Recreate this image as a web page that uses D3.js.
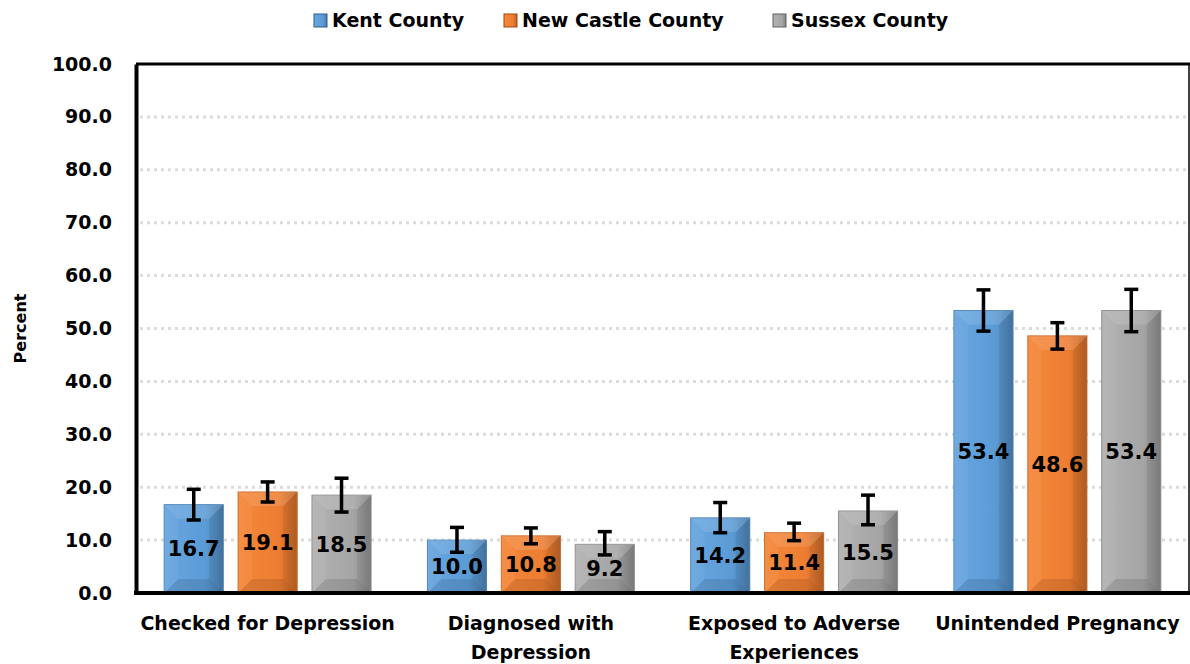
<!DOCTYPE html>
<html>
<head>
<meta charset="utf-8">
<script src="https://cdn.jsdelivr.net/npm/d3@7"></script>
<style>
  body { margin: 0; background: #fff; }
  text { font-family: "DejaVu Sans", sans-serif; font-weight: bold; fill: #000; }
</style>
</head>
<body>
<div id="container"></div>
<script>
let w = 1190;
let h = 664;

// data
let categories = ["Checked for Depression", "Diagnosed with Depression", "Exposed to Adverse Experiences", "Unintended Pregnancy"];
let categoryLines = [["Checked for Depression"], ["Diagnosed with", "Depression"], ["Exposed to Adverse", "Experiences"], ["Unintended Pregnancy"]];
let series = ["Kent County", "New Castle County", "Sussex County"];
let kent = [16.7, 10.0, 14.2, 53.4];
let newCastle = [19.1, 10.8, 11.4, 48.6];
let sussex = [18.5, 9.2, 15.5, 53.4];
let kentLow = [13.8, 7.7, 11.4, 49.5];
let kentHigh = [19.6, 12.4, 17.1, 57.3];
let newCastleLow = [17.2, 9.3, 9.9, 46.1];
let newCastleHigh = [21.0, 12.3, 13.2, 51.1];
let sussexLow = [15.3, 7.2, 12.9, 49.4];
let sussexHigh = [21.7, 11.6, 18.5, 57.4];
let yTicks = [0, 10, 20, 30, 40, 50, 60, 70, 80, 90, 100];

let colors = {"Kent County": "#5b9bd5", "New Castle County": "#ed7d31", "Sussex County": "#a5a5a5"};
let darkColors = {"Kent County": "#2e5f8c", "New Castle County": "#9c4a12", "Sussex County": "#606060"};
let lightColors = {"Kent County": "#68a6e0", "New Castle County": "#f5883a", "Sussex County": "#b2b2b2"};

let values = [kent, newCastle, sussex];
let lows = [kentLow, newCastleLow, sussexLow];
let highs = [kentHigh, newCastleHigh, sussexHigh];

let rows = [];
categories.forEach(function(c, i){
  series.forEach(function(s, j){
    rows.push({cat: c, series: s, value: values[j][i], low: lows[j][i], high: highs[j][i]});
  });
});

let margin = {left: 136, right: 1, top: 64, bottom: 71};

let viz = d3.select("#container")
  .append("svg")
    .attr("width", w)
    .attr("height", h);

let defs = viz.append("defs");
series.forEach(function(s, j){
  let g = defs.append("linearGradient").attr("id", "grad" + j).attr("x1", "0").attr("x2", "1").attr("y1", "0").attr("y2", "0");
  g.append("stop").attr("offset", "0%").attr("stop-color", lightColors[s]);
  g.append("stop").attr("offset", "70%").attr("stop-color", colors[s]);
  g.append("stop").attr("offset", "100%").attr("stop-color", d3.color(colors[s]).darker(0.7));
});

let y = d3.scaleLinear().domain([0, 100]).range([h - margin.bottom, margin.top]);
let x0 = d3.scaleBand().domain(categories).range([margin.left, w - margin.right]).paddingInner(0.214).paddingOuter(0.107);
let x1 = d3.scaleBand().domain(series).range([0, x0.bandwidth()]).paddingInner(0.2);

// gridlines
viz.append("g").selectAll("line").data(yTicks.filter(function(t){ return t > 0 && t < 100; })).enter()
  .append("line")
    .attr("x1", margin.left + 4)
    .attr("x2", w - margin.right)
    .attr("y1", function(d){ return y(d); })
    .attr("y2", function(d){ return y(d); })
    .attr("stroke", "#dcdcdc")
    .attr("stroke-width", 3)
    .attr("stroke-dasharray", "3,4");

// frame
viz.append("line").attr("x1", margin.left).attr("x2", w).attr("y1", y(100)).attr("y2", y(100)).attr("stroke", "#000").attr("stroke-width", 3);
viz.append("line").attr("x1", w - 1).attr("x2", w - 1).attr("y1", y(100)).attr("y2", y(0)).attr("stroke", "#000").attr("stroke-width", 1.5);

// bars
let bars = viz.append("g").selectAll("g").data(rows).enter()
  .append("g")
    .attr("transform", function(d){ return "translate(" + (x0(d.cat) + x1(d.series)) + ",0)"; });

let bw = x1.bandwidth();
bars.append("rect")
  .attr("x", 0)
  .attr("y", function(d){ return y(d.value); })
  .attr("width", bw)
  .attr("height", function(d){ return y(0) - y(d.value); })
  .attr("fill", function(d){ return "url(#grad" + series.indexOf(d.series) + ")"; })
  .attr("stroke", function(d){ return d3.color(colors[d.series]).darker(0.4); })
  .attr("stroke-width", 1);

// bevel facets
function facets(d){
  let top = y(d.value), bot = y(0);
  let hgt = bot - top;
  let b = Math.min(bw / 2, hgt / 2, 14);
  return [
    {pts: [[0, top], [bw, top], [bw - b, top + b], [b, top + b]], fill: "#fff", op: 0.12},
    {pts: [[bw, top], [bw, bot], [bw - b, bot - b], [bw - b, top + b]], fill: "#000", op: 0.06},
    {pts: [[0, bot], [bw, bot], [bw - b, bot - b], [b, bot - b]], fill: "#000", op: 0.1},
    {pts: [[0, top], [0, bot], [b, bot - b], [b, top + b]], fill: "#fff", op: 0.05}
  ];
}
bars.selectAll("polygon").data(facets).enter()
  .append("polygon")
    .attr("points", function(f){ return f.pts.map(function(p){ return p.join(","); }).join(" "); })
    .attr("fill", function(f){ return f.fill; })
    .attr("fill-opacity", function(f){ return f.op; });

// value labels
bars.append("text")
  .attr("x", bw / 2)
  .attr("y", function(d){ return (y(d.value) + y(0)) / 2; })
  .attr("dy", "0.36em")
  .attr("text-anchor", "middle")
  .style("font-size", "21px")
  .text(function(d){ return d.value.toFixed(1); });

// error bars
let err = bars.append("g").attr("stroke", "#000").attr("stroke-width", 3.5);
err.append("line").attr("x1", bw / 2).attr("x2", bw / 2)
  .attr("y1", function(d){ return y(d.low); }).attr("y2", function(d){ return y(d.high); });
err.append("line").attr("x1", bw / 2 - 7).attr("x2", bw / 2 + 7)
  .attr("y1", function(d){ return y(d.low); }).attr("y2", function(d){ return y(d.low); });
err.append("line").attr("x1", bw / 2 - 7).attr("x2", bw / 2 + 7)
  .attr("y1", function(d){ return y(d.high); }).attr("y2", function(d){ return y(d.high); });

// y axis
let yAxis = viz.append("g")
  .attr("transform", "translate(" + margin.left + ",0)")
  .call(d3.axisLeft(y).tickValues(yTicks).tickFormat(d3.format(".1f")).tickSize(0).tickPadding(24));
yAxis.select(".domain").attr("stroke", "#000").attr("stroke-width", 4);
yAxis.selectAll("text").style("font-size", "19px").style("font-family", "DejaVu Sans, sans-serif").style("font-weight", "bold");

// x axis line
viz.append("line").attr("x1", margin.left - 2).attr("x2", w).attr("y1", y(0)).attr("y2", y(0)).attr("stroke", "#000").attr("stroke-width", 4);

// category labels
categories.forEach(function(c, i){
  let t = viz.append("text")
    .attr("x", x0(c) + x0.bandwidth() / 2)
    .attr("y", 630)
    .attr("text-anchor", "middle")
    .style("font-size", "19px");
  categoryLines[i].forEach(function(line, k){
    t.append("tspan").attr("x", x0(c) + x0.bandwidth() / 2).attr("dy", k == 0 ? 0 : 29).text(line);
  });
});

// y title
viz.append("text")
  .attr("transform", "translate(26," + y(50) + ") rotate(-90)")
  .attr("text-anchor", "middle")
  .style("font-size", "16px")
  .text("Percent");

// legend
let legendX = [314, 504, 773];
let legend = viz.append("g").selectAll("g").data(series).enter()
  .append("g")
    .attr("transform", function(d, i){ return "translate(" + legendX[i] + ",14)"; });
legend.append("rect")
  .attr("width", 13).attr("height", 13)
  .attr("fill", function(d, i){ return "url(#grad" + i + ")"; })
  .attr("stroke", function(d){ return darkColors[d]; })
  .attr("stroke-width", 1);
legend.append("text")
  .attr("x", 18)
  .attr("y", 6.5)
  .attr("dy", "0.36em")
  .style("font-size", "19px")
  .text(function(d){ return d; });
</script>
</body>
</html>
